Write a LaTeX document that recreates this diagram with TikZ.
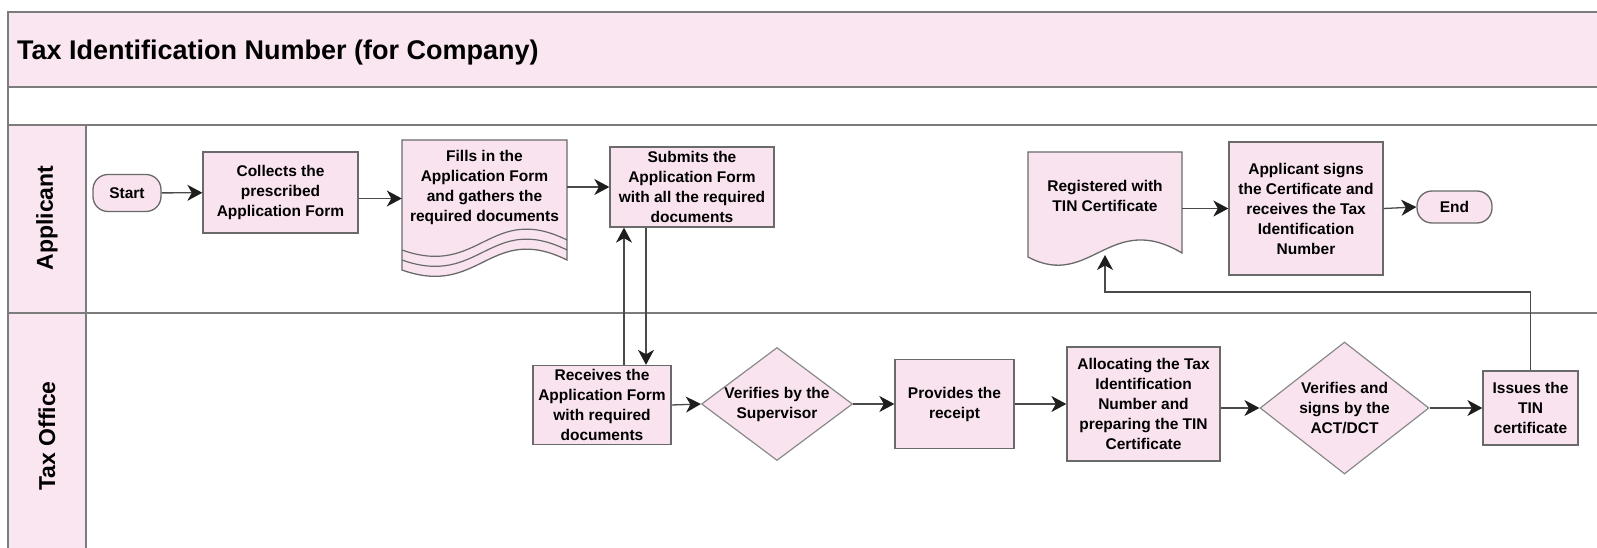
\documentclass[tikz,border=0pt]{standalone}
\usepackage{fontspec}
\setmainfont{Liberation Sans}
\usetikzlibrary{shapes.geometric,arrows.meta}
\definecolor{hdr}{HTML}{FAE6F0}
\definecolor{nfill}{HTML}{F9E3EF}
\definecolor{bord}{HTML}{6A6A6A}
\definecolor{dbord}{HTML}{8A8A8A}
\definecolor{frm}{HTML}{7C7C7C}
\definecolor{conn}{HTML}{4A4A4A}
\definecolor{tipc}{HTML}{1E1E1E}
\newcommand\tnodefont{\bfseries\fontsize{15.5}{20}\selectfont}
\begin{document}
\begin{tikzpicture}[x=1pt,y=-1pt,
  frame/.style={draw=frm, line width=1.8pt},
  box/.style={draw=bord, line width=1.3pt, fill=nfill, rectangle, inner sep=0pt, align=center, font=\tnodefont},
  term/.style={box, rounded corners=15pt},
  dia/.style={draw=dbord, line width=1.2pt, fill=nfill, diamond, inner sep=0pt},
  txt/.style={inner sep=0pt, align=center, font=\tnodefont},
  docshape/.style={draw=bord, line width=1.3pt, fill=nfill},
  lane/.style={rotate=90, inner sep=0pt, font=\bfseries\fontsize{23}{28}\selectfont},
  arr/.style={draw=conn, line width=1.3pt, -{Stealth[length=15pt,width=16pt,inset=4.5pt,color=tipc]}}]
\useasboundingbox (0,0) rectangle (1597,548);
% frame and lanes
\fill[hdr] (8,12) rectangle (1597,87);
\fill[hdr] (8,125) rectangle (86,548);
\draw[frame] (1597,12) -- (8,12) -- (8,548);
\draw[frame] (8,87) -- (1597,87);
\draw[frame] (8,125) -- (1597,125);
\draw[frame] (8,313) -- (1597,313);
\draw[frame] (86,125) -- (86,548);
\node[anchor=base west, inner sep=0pt, font=\bfseries\fontsize{27}{32}\selectfont] (title) at (17,60) {Tax Identification Number (for Company)};
\node[lane] (lapp) at (47,218) {Applicant};
\node[lane] (ltax) at (47,436) {Tax Office};
% applicant lane
\node[term, minimum width=68pt, minimum height=37pt] (start) at (127,193) {Start};
\node[box, minimum width=155pt, minimum height=81pt] (coll) at (280.5,192.5) {Collects the\\prescribed\\Application Form};
\path[docshape] (402,140) -- (567,140) -- (567,260) .. controls (490,222) and (480,298) .. (402,270) -- cycle;
\draw[draw=bord, line width=1.2pt] (567,250) .. controls (490,212) and (480,288) .. (402,260);
\draw[draw=bord, line width=1.2pt] (567,240) .. controls (490,202) and (480,278) .. (402,250);
\node[txt, minimum width=165pt, minimum height=94pt] (fills) at (484.5,187) {Fills in the\\Application Form\\and gathers the\\required documents};
\node[box, minimum width=164pt, minimum height=80pt] (subm) at (692,187) {Submits the\\Application Form\\with all the required\\documents};
\path[docshape] (1028,152) -- (1182,152) -- (1182,253) .. controls (1110,210) and (1090,290) .. (1028,257) -- cycle;
\node[txt, minimum width=154pt, minimum height=88pt] (reg) at (1105,196) {Registered with\\TIN Certificate};
\coordinate (regb) at (1105,255);
\node[box, minimum width=154pt, minimum height=133pt] (signs) at (1306,208.5) {Applicant signs\\the Certificate and\\receives the Tax\\Identification\\Number};
\node[term, minimum width=75pt, minimum height=32pt] (end) at (1454.5,207) {End};
% tax office lane
\node[box, minimum width=138pt, minimum height=79pt] (recv) at (602,405) {Receives the\\Application Form\\with required\\documents};
\node[dia, minimum width=151pt, minimum height=113pt, label={[txt]center:{Verifies by the\\Supervisor}}] (d1) at (777,404) {};
\node[box, minimum width=119pt, minimum height=89pt] (prov) at (954.5,404) {Provides the\\receipt};
\node[box, minimum width=153pt, minimum height=114pt] (alloc) at (1143.5,404) {Allocating the Tax\\Identification\\Number and\\preparing the TIN\\Certificate};
\node[dia, minimum width=169pt, minimum height=132pt, label={[txt]center:{Verifies and\\signs by the\\ACT/DCT}}] (d2) at (1344.5,408) {};
\node[box, minimum width=95pt, minimum height=74pt] (iss) at (1530.5,408) {Issues the\\TIN\\certificate};
% connectors
\draw[arr] (start) -- (coll);
\draw[arr] ([yshift=-6pt]coll.east) -- ([yshift=-6pt]coll.east -| fills.west);
\draw[arr] (fills.east) -- (subm.west);
\draw[arr] ([xshift=22pt]recv.north) -- ([xshift=22pt]recv.north |- subm.south);
\draw[arr] ([xshift=44pt]recv.north |- subm.south) -- ([xshift=44pt]recv.north);
\draw[arr] (signs.west -| reg.east) -- (signs.west);
\draw[arr] (signs.east) -- (end.west);
\draw[arr] (recv.east) -- (d1.west);
\draw[arr] (d1.east) -- (prov.west);
\draw[arr] (prov.east) -- (alloc.west);
\draw[arr] (d2.west -| alloc.east) -- (d2.west);
\draw[arr] (d2.east) -- (iss.west);
\draw[arr] (iss.north) |- ([yshift=-37pt]regb) -- (regb);
\end{tikzpicture}
\end{document}
